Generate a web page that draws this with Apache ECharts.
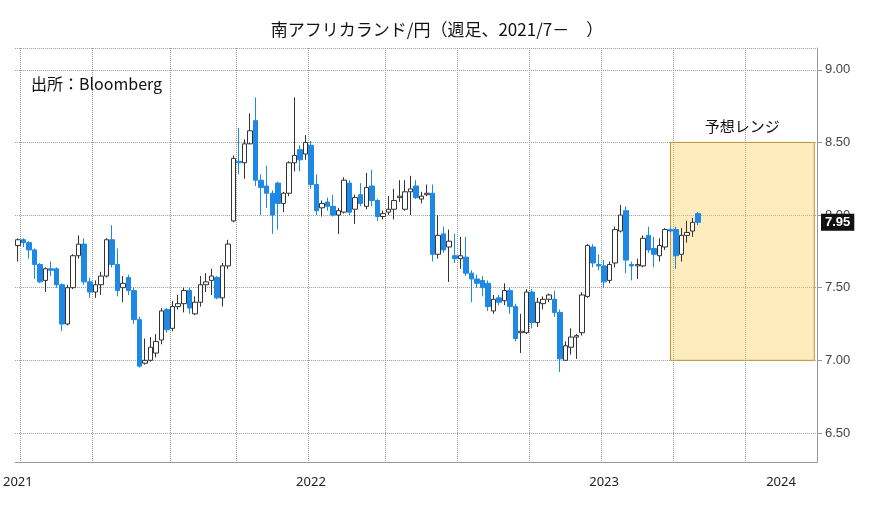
<!DOCTYPE html>
<html>
<head>
<meta charset="utf-8">
<script src="https://cdn.jsdelivr.net/npm/echarts@6/dist/echarts.min.js"></script>
<style>html,body{margin:0;padding:0;background:#fff}#main{width:874px;height:508px}</style>
</head>
<body>
<div id="main"></div>
<script>
// weekly candles from 2021-06-25: open, close, low, high
var opens = [7.79,7.83,7.81,7.76,7.66,7.55,7.63,7.63,7.52,7.25,7.50,7.72,7.80,7.54,7.47,7.52,7.58,7.83,7.66,7.50,7.57,7.48,7.28,6.98,7.00,7.05,7.14,7.35,7.22,7.37,7.39,7.48,7.32,7.40,7.52,7.55,7.57,7.43,7.65,7.96,8.37,8.36,8.49,8.65,8.24,8.20,8.15,8.22,8.08,8.15,8.36,8.45,8.42,8.48,8.21,8.05,8.09,8.06,8.00,8.02,8.22,8.04,8.14,8.06,8.20,8.10,7.99,8.02,8.04,8.12,8.04,8.16,8.20,8.11,8.14,8.15,7.73,7.87,7.78,7.72,7.70,7.71,7.60,7.56,7.55,7.53,7.34,7.43,7.41,7.48,7.37,7.19,7.19,7.47,7.26,7.39,7.42,7.42,7.33,7.00,7.09,7.16,7.19,7.44,7.78,7.66,7.65,7.55,7.67,7.89,8.03,7.66,7.65,7.65,7.86,7.77,7.72,7.78,7.90,7.90,7.73,7.86,7.89,8.01];
var closes = [7.83,7.81,7.76,7.66,7.54,7.63,7.62,7.52,7.25,7.50,7.72,7.80,7.54,7.47,7.52,7.58,7.83,7.66,7.48,7.53,7.48,7.28,6.96,7.00,7.09,7.13,7.34,7.21,7.37,7.39,7.48,7.36,7.40,7.52,7.54,7.58,7.43,7.65,7.80,8.39,8.36,8.49,8.58,8.24,8.19,8.15,8.00,8.08,8.15,8.36,8.41,8.38,8.50,8.21,8.03,8.08,8.06,8.00,8.03,8.24,8.02,8.12,8.08,8.19,8.10,7.99,8.01,8.04,8.10,8.13,8.16,8.18,8.12,8.13,8.15,7.73,7.86,7.76,7.82,7.70,7.72,7.60,7.56,7.53,7.50,7.37,7.42,7.40,7.48,7.37,7.15,7.20,7.47,7.26,7.40,7.42,7.45,7.33,7.01,7.10,7.16,7.17,7.45,7.79,7.67,7.65,7.54,7.66,7.90,8.00,7.69,7.65,7.66,7.84,7.76,7.73,7.79,7.90,7.89,7.72,7.86,7.88,7.95,7.95];
var lows = [7.68,7.78,7.70,7.56,7.53,7.47,7.58,7.50,7.20,7.24,7.49,7.70,7.52,7.43,7.43,7.45,7.57,7.64,7.44,7.40,7.45,7.25,6.95,6.97,6.99,7.02,7.11,7.19,7.20,7.35,7.33,7.32,7.31,7.37,7.47,7.45,7.42,7.37,7.63,7.95,8.28,8.25,8.50,8.20,8.00,8.05,7.87,7.90,8.02,8.13,8.30,8.30,8.38,8.18,8.00,7.99,8.03,7.99,7.87,8.01,8.00,7.94,8.06,8.04,8.06,7.96,7.97,8.00,7.97,8.09,8.03,8.00,8.11,8.08,8.13,7.68,7.70,7.74,7.54,7.67,7.63,7.58,7.40,7.50,7.44,7.34,7.32,7.38,7.38,7.32,7.13,7.05,7.18,7.22,7.23,7.35,7.40,7.30,6.92,7.00,7.04,7.01,7.17,7.43,7.64,7.62,7.50,7.53,7.64,7.88,7.60,7.55,7.56,7.64,7.74,7.64,7.68,7.76,7.88,7.63,7.68,7.81,7.85,7.93];
var highs = [7.84,7.84,7.82,7.77,7.67,7.64,7.68,7.64,7.53,7.52,7.73,7.86,7.84,7.57,7.55,7.61,7.84,7.93,7.77,7.58,7.59,7.50,7.30,7.15,7.16,7.18,7.36,7.36,7.41,7.45,7.50,7.50,7.44,7.58,7.60,7.63,7.58,7.67,7.83,8.41,8.60,8.52,8.70,8.81,8.28,8.34,8.17,8.23,8.16,8.37,8.81,8.48,8.55,8.51,8.28,8.10,8.12,8.14,8.05,8.26,8.24,8.14,8.22,8.29,8.31,8.11,8.03,8.13,8.18,8.24,8.24,8.27,8.24,8.16,8.21,8.21,8.00,7.92,7.90,7.87,7.85,7.85,7.62,7.59,7.58,7.55,7.45,7.45,7.53,7.50,7.39,7.32,7.49,7.49,7.43,7.44,7.46,7.48,7.35,7.13,7.22,7.18,7.47,7.80,7.80,7.73,7.69,7.68,7.92,8.07,8.06,7.68,7.70,7.86,7.92,7.85,7.84,7.91,7.92,7.92,7.91,7.96,7.98,8.02];
var rangeLow = 7.0, rangeHigh = 8.5;
var lastPrice = 7.95;

var weeks = [];
var d = new Date(Date.UTC(2021, 5, 25));
for (var i = 0; i < 145; i++) {
    weeks.push(d.toISOString().slice(0, 10));
    d = new Date(d.getTime() + 7 * 86400000);
}
var candles = opens.map(function (o, i) { return [o, closes[i], lows[i], highs[i]]; });

function isYearStart(v) { return v.slice(5, 7) === '01' && +v.slice(8) <= 7; }
function isQuarterStart(v) { return ['01', '04', '07', '10'].indexOf(v.slice(5, 7)) >= 0 && +v.slice(8) <= 7; }
function isLabel(i, v) { return i === 0 || (v.slice(5, 7) === '07' && +v.slice(8) <= 7 && v.slice(0, 4) !== '2021') || v === '2024-02-16'; }
var boxStart = weeks.filter(function (v) { return v.slice(0, 7) === '2023-09'; }).pop();

var myChart = echarts.init(document.getElementById('main'));
myChart.setOption({
    animation: false,
    title: [{
        text: '南アフリカランド/円（週足、2021/7－　）', left: 'center', top: 16,
        textStyle: { fontFamily: 'Noto Sans CJK JP', fontSize: 17, fontWeight: 'normal', color: '#111' }
    }, {
        text: '出所：Bloomberg', left: 26, top: 71,
        textStyle: { fontFamily: 'Noto Sans CJK JP', fontSize: 16, fontWeight: 'normal', color: '#111' }
    }],
    grid: { left: 12, right: 57, top: 48, bottom: 46 },
    xAxis: {
        type: 'category', data: weeks, boundaryGap: true,
        axisLine: { lineStyle: { color: '#999' } },
        axisTick: { interval: function (i, v) { return isYearStart(v); }, length: 18, lineStyle: { color: '#aaa' } },
        axisLabel: {
            interval: function (i, v) { return isLabel(i, v); }, formatter: function (v) { return v.slice(0, 4); },
            color: '#222', fontSize: 13, margin: 14, fontFamily: 'Noto Sans'
        },
        splitLine: { show: true, interval: function (i, v) { return isQuarterStart(v); }, lineStyle: { color: '#999', type: 'dotted' } }
    },
    yAxis: {
        type: 'value', position: 'right', min: 6.3, max: 9.15, splitNumber: 6, scale: true,
        axisLine: { show: true, lineStyle: { color: '#999' } },
        axisTick: { show: true, lineStyle: { color: '#999' } },
        axisLabel: { color: '#444', fontSize: 13, showMinLabel: false, showMaxLabel: false, formatter: function (v) { return v.toFixed(2); } },
        splitLine: { lineStyle: { color: '#999', type: 'dotted' } }
    },
    series: [{
        type: 'candlestick', data: candles, barWidth: 5,
        itemStyle: { color: '#ffffff', color0: '#1e88e5', borderColor: '#333', borderColor0: '#1e88e5', borderWidth: 1 },
        markLine: {
            symbol: 'none', silent: true, lineStyle: { color: 'transparent', width: 1 },
            data: [{ yAxis: lastPrice }],
            label: {
                show: true, position: 'end', formatter: lastPrice.toFixed(2), color: '#fff', backgroundColor: '#111',
                padding: [2, 4], fontSize: 13, fontWeight: 'bold', distance: 4
            }
        }
    }, {
        type: 'line', data: [], z: 10,
        markArea: {
            silent: true,
            itemStyle: { color: 'rgba(252,213,110,0.45)', borderColor: '#b8962e', borderWidth: 1 },
            label: { show: true, position: 'top', formatter: '予想レンジ', color: '#111', fontSize: 15, fontFamily: 'Noto Sans CJK JP', distance: 8 },
            data: [[{ xAxis: boxStart, yAxis: rangeHigh }, { xAxis: weeks[weeks.length - 1], yAxis: rangeLow }]]
        }
    }]
});
window.addEventListener('resize', function () { myChart.resize(); });
</script>
</body>
</html>
